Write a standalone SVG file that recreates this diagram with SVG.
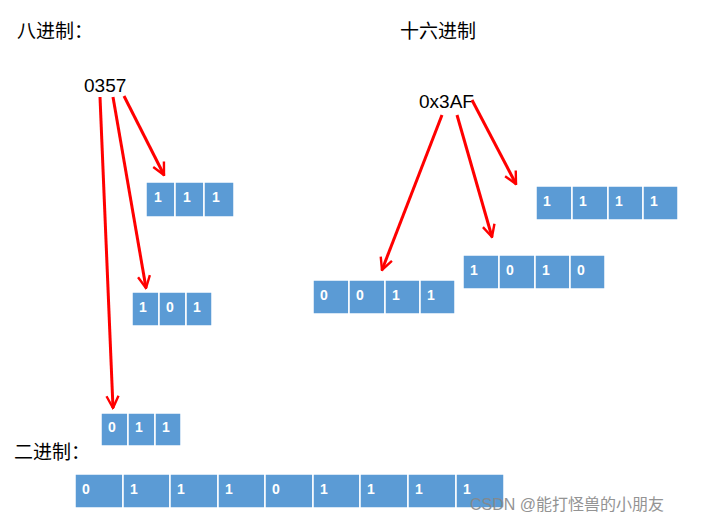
<svg xmlns="http://www.w3.org/2000/svg" width="717" height="523" viewBox="0 0 717 523">
<defs>
<marker id="v" viewBox="0 0 10 10" refX="9" refY="5" markerWidth="5" markerHeight="5" orient="auto" markerUnits="strokeWidth"><path d="M1,1 L9,5 L1,9" fill="none" stroke="#f00" stroke-width="1.6"/></marker>
</defs>
<style>
.c{fill:#5b9bd5;stroke:#fff;stroke-width:1.5}
.d{font-family:"Liberation Sans",Arial,sans-serif;font-size:14px;font-weight:bold;fill:#fff}
.t{font-family:"Liberation Sans","Noto Sans CJK SC",sans-serif;font-size:19px;fill:#000}
.a{stroke:#f00;stroke-width:3;fill:none;marker-end:url(#v)}
</style>
<rect width="717" height="523" fill="#fff"/>
<text class="t" x="17" y="38">八进制：</text>
<text class="t" x="400" y="38">十六进制</text>
<text class="t" x="84" y="92">0357</text>
<text class="t" x="419" y="108">0x3AF</text>
<text class="t" x="14" y="459">二进制：</text>
<g id="o1"><rect class="c" x="146" y="182" width="29" height="35"/><rect class="c" x="175" y="182" width="29" height="35"/><rect class="c" x="204" y="182" width="30" height="35"/>
<text class="d" x="154" y="202">1</text><text class="d" x="183" y="202">1</text><text class="d" x="212" y="202">1</text></g>
<g id="o2"><rect class="c" x="132" y="292" width="27" height="34"/><rect class="c" x="159" y="292" width="27" height="34"/><rect class="c" x="186" y="292" width="26" height="34"/>
<text class="d" x="139" y="312">1</text><text class="d" x="166" y="312">0</text><text class="d" x="193" y="312">1</text></g>
<g id="o3"><rect class="c" x="101" y="413" width="27" height="33"/><rect class="c" x="128" y="413" width="27" height="33"/><rect class="c" x="155" y="413" width="26" height="33"/>
<text class="d" x="108" y="432">0</text><text class="d" x="135" y="432">1</text><text class="d" x="162" y="432">1</text></g>
<g id="h1"><rect class="c" x="313" y="280" width="36" height="34"/><rect class="c" x="349" y="280" width="36" height="34"/><rect class="c" x="385" y="280" width="35" height="34"/><rect class="c" x="420" y="280" width="35" height="34"/>
<text class="d" x="320" y="300">0</text><text class="d" x="356" y="300">0</text><text class="d" x="392" y="300">1</text><text class="d" x="427" y="300">1</text></g>
<g id="h2"><rect class="c" x="463" y="255" width="36" height="34"/><rect class="c" x="499" y="255" width="36" height="34"/><rect class="c" x="535" y="255" width="35" height="34"/><rect class="c" x="570" y="255" width="35" height="34"/>
<text class="d" x="470" y="275">1</text><text class="d" x="506" y="275">0</text><text class="d" x="542" y="275">1</text><text class="d" x="577" y="275">0</text></g>
<g id="h3"><rect class="c" x="536" y="186" width="36" height="34"/><rect class="c" x="572" y="186" width="36" height="34"/><rect class="c" x="608" y="186" width="35" height="34"/><rect class="c" x="643" y="186" width="35" height="34"/>
<text class="d" x="543" y="206">1</text><text class="d" x="579" y="206">1</text><text class="d" x="615" y="206">1</text><text class="d" x="650" y="206">1</text></g>
<g id="bin">
<rect class="c" x="75" y="474" width="48" height="34"/><rect class="c" x="123" y="474" width="47" height="34"/><rect class="c" x="170" y="474" width="48" height="34"/><rect class="c" x="218" y="474" width="47" height="34"/><rect class="c" x="265" y="474" width="48" height="34"/><rect class="c" x="313" y="474" width="47" height="34"/><rect class="c" x="360" y="474" width="48" height="34"/><rect class="c" x="408" y="474" width="48" height="34"/><rect class="c" x="456" y="474" width="48" height="34"/>
<text class="d" x="82" y="494">0</text><text class="d" x="130" y="494">1</text><text class="d" x="177" y="494">1</text><text class="d" x="225" y="494">1</text><text class="d" x="272" y="494">0</text><text class="d" x="320" y="494">1</text><text class="d" x="367" y="494">1</text><text class="d" x="415" y="494">1</text><text class="d" x="463" y="494">1</text>
</g>
<g id="connectors">
<line class="a" x1="124" y1="96" x2="164" y2="175"/>
<line class="a" x1="113" y1="97" x2="146" y2="288"/>
<line class="a" x1="100" y1="97" x2="113" y2="408"/>
<line class="a" x1="442" y1="115" x2="382" y2="270"/>
<line class="a" x1="457" y1="115" x2="492" y2="237"/>
<line class="a" x1="472" y1="100" x2="516" y2="184"/>
</g>
<text x="470" y="510" font-family="'Liberation Sans','Noto Sans CJK SC',sans-serif" font-size="16" fill="#888" opacity="0.9">CSDN @能打怪兽的小朋友</text>
</svg>
